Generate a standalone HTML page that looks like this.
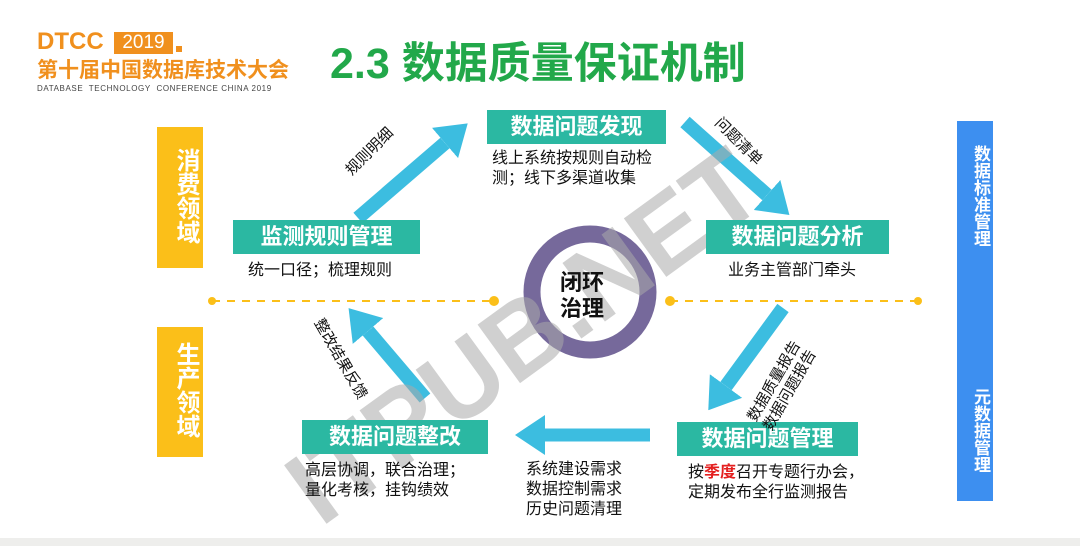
<!DOCTYPE html>
<html><head><meta charset="utf-8"><style>
body{margin:0;width:1080px;height:546px;background:#fff;overflow:hidden;position:relative;font-family:"Liberation Sans","Noto Sans CJK SC",sans-serif}
.a{position:absolute}
.box{position:absolute;background:#2bb8a2;color:#fff;font-weight:bold;font-size:22px;text-align:center;line-height:34px;height:34px}
.t{position:absolute;font-size:16px;color:#111;line-height:20px}
.v{position:absolute;color:#fff;font-weight:bold;font-size:24px;writing-mode:vertical-rl;text-align:center}
</style></head><body>
<div class="a" style="left:0;top:538px;width:1080px;height:8px;background:#eeeeec"></div>
<div class="a" style="left:37px;top:28px;color:#f0901e;font-weight:bold;font-size:24px;line-height:28px">DTCC</div>
<div class="a" style="left:114px;top:32px;width:59px;height:22px;background:#f0901e;color:#fff;font-size:19px;line-height:22px;text-align:center">2019</div>
<div class="a" style="left:176px;top:46px;width:6px;height:6px;background:#f0901e"></div>
<div class="a" style="left:37px;top:58px;color:#f0901e;font-weight:bold;font-size:21px;line-height:25px">第十届中国数据库技术大会</div>
<div class="a" style="left:37px;top:84px;color:#444;font-size:8px;line-height:10px;letter-spacing:0.6px">DATABASE&nbsp; TECHNOLOGY&nbsp; CONFERENCE CHINA 2019</div>
<div class="a" style="left:330px;top:36px;color:#22a84a;font-weight:bold;font-size:43px;line-height:56px">2.3 数据质量保证机制</div>

<div class="a" style="left:157px;top:127px;width:46px;height:141px;background:#fbbf19"></div>
<div class="v" style="left:157px;top:148px;width:46px">消费领域</div>
<div class="a" style="left:157px;top:327px;width:46px;height:130px;background:#fbbf19"></div>
<div class="v" style="left:157px;top:342px;width:46px">生产领域</div>
<div class="a" style="left:957px;top:121px;width:36px;height:380px;background:#3d8ff0"></div>
<div class="v" style="left:957px;top:145px;width:36px;font-size:17px">数据标准管理</div>
<div class="v" style="left:957px;top:388px;width:36px;font-size:17px">元数据管理</div>

<svg class="a" style="left:0;top:0" width="1080" height="546">
<defs><marker id="h" viewBox="0 0 30 40" refX="0" refY="20" markerWidth="30" markerHeight="40" markerUnits="userSpaceOnUse" orient="auto"><path d="M0,0 L30,20 L0,40 Z" fill="#3cbde0"/></marker></defs>
<line x1="212" y1="301" x2="492" y2="301" stroke="#fbbf19" stroke-width="2" stroke-dasharray="8,7"/>
<circle cx="212" cy="301" r="4" fill="#fbbf19"/><circle cx="494" cy="301" r="5" fill="#fbbf19"/>
<line x1="670" y1="301" x2="918" y2="301" stroke="#fbbf19" stroke-width="2" stroke-dasharray="8,7"/>
<circle cx="670" cy="301" r="5" fill="#fbbf19"/><circle cx="918" cy="301" r="4" fill="#fbbf19"/>
<circle cx="590" cy="292" r="58" fill="none" stroke="#76699b" stroke-width="17"/>
<g stroke="#3cbde0" stroke-width="14" marker-end="url(#h)">
<line x1="358" y1="218" x2="445" y2="143"/>
<line x1="685" y1="122" x2="767" y2="195"/>
<line x1="783" y1="308" x2="726" y2="386"/>
<line x1="650" y1="435" x2="545" y2="435" stroke-width="13"/>
<line x1="425" y1="398" x2="368" y2="331"/>
</g>
<text x="545" y="365" transform="rotate(-36 545 365)" font-family="Liberation Sans" font-weight="bold" font-size="105" fill="#aaa" opacity="0.55" text-anchor="middle">ITPUB.NET</text>
</svg>
<div class="a" style="left:560px;top:270px;font-weight:bold;font-size:22px;line-height:26px;color:#111">闭环<br>治理</div>

<div class="box" style="left:487px;top:110px;width:179px">数据问题发现</div>
<div class="box" style="left:233px;top:220px;width:187px">监测规则管理</div>
<div class="box" style="left:706px;top:220px;width:183px">数据问题分析</div>
<div class="box" style="left:302px;top:420px;width:186px">数据问题整改</div>
<div class="box" style="left:677px;top:422px;width:181px">数据问题管理</div>

<div class="t" style="left:492px;top:149px">线上系统按规则自动检<br>测；线下多渠道收集</div>
<div class="t" style="left:248px;top:261px">统一口径；梳理规则</div>
<div class="t" style="left:728px;top:261px">业务主管部门牵头</div>
<div class="t" style="left:305px;top:461px">高层协调，联合治理；<br>量化考核，挂钩绩效</div>
<div class="t" style="left:688px;top:463px">按<b style="color:#e41f1f">季度</b>召开专题行办会，<br>定期发布全行监测报告</div>
<div class="t" style="left:526px;top:460px;text-align:center">系统建设需求<br>数据控制需求<br>历史问题清理</div>

<div class="t" style="left:340px;top:142px;transform:rotate(-45deg);font-size:15px">规则明细</div>
<div class="t" style="left:708px;top:132px;transform:rotate(45deg);font-size:15px">问题清单</div>
<div class="t" style="left:730px;top:355px;transform:rotate(-60deg);font-size:15px;line-height:18px;width:120px">数据质量报告<br>数据问题报告</div>
<div class="t" style="left:290px;top:358px;transform:rotate(60deg);font-size:15px;width:110px">整改结果反馈</div>
</body></html>
